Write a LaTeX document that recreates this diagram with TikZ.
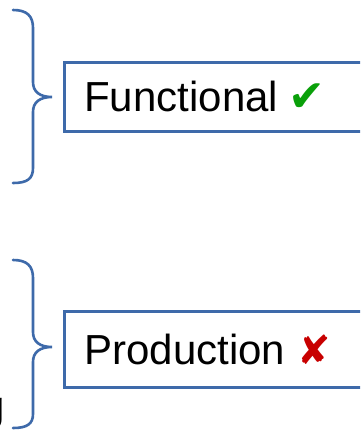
\documentclass[tikz,border=0pt]{standalone}
\usepackage{fontspec}
\setmainfont{Liberation Sans}
\newfontfamily\symfont{DejaVu Sans}
\definecolor{boxblue}{RGB}{62,106,170}
\definecolor{okgreen}{RGB}{10,160,10}
\definecolor{badred}{RGB}{200,0,0}
\begin{document}
\begin{tikzpicture}[x=1pt,y=-1pt,
  brace/.style={draw=boxblue,line width=2.6pt,line cap=round},
  labelbox/.style={draw=boxblue,line width=2.6pt,anchor=north west,minimum width=340pt,minimum height=69pt,
    text width=300pt,align=left,inner xsep=20pt,inner ysep=0pt,font=\fontsize{42}{46}\selectfont}]
\useasboundingbox (0,0) rectangle (360,430);
\clip (0,0) rectangle (360,430);
\fill[white] (0,0) rectangle (360,430);
% top brace
\coordinate (t1) at (52,97);
\draw[brace] (13,10) .. controls (27,10) and (33,16) .. (33,28) -- (33,82)
  .. controls (33,92) and (40,97) .. (t1)
  .. controls (40,97) and (33,102) .. (33,112) -- (33,168)
  .. controls (33,179) and (27,183) .. (13,183);
% bottom brace
\coordinate (t2) at (52,347);
\draw[brace] (13,260) .. controls (27,260) and (33,266) .. (33,278) -- (33,332)
  .. controls (33,342) and (40,347) .. (t2)
  .. controls (40,347) and (33,352) .. (33,362) -- (33,414)
  .. controls (33,424) and (27,428) .. (13,428);
% boxes
\node[labelbox] (func) at (63,61) {Functional\hspace{0.25em}{\symfont\fontsize{44}{46}\selectfont\color{okgreen}✔}};
\node[labelbox,minimum height=76pt] (prod) at (63,310) {Production\hspace{0.3em}{\symfont\fontsize{40}{46}\selectfont\color{badred}✘}};
% cut-off text fragment
\node[anchor=base west,inner sep=0pt,font=\fontsize{42}{46}\selectfont] (frag) at (-19,420) {g};
\end{tikzpicture}
\end{document}
